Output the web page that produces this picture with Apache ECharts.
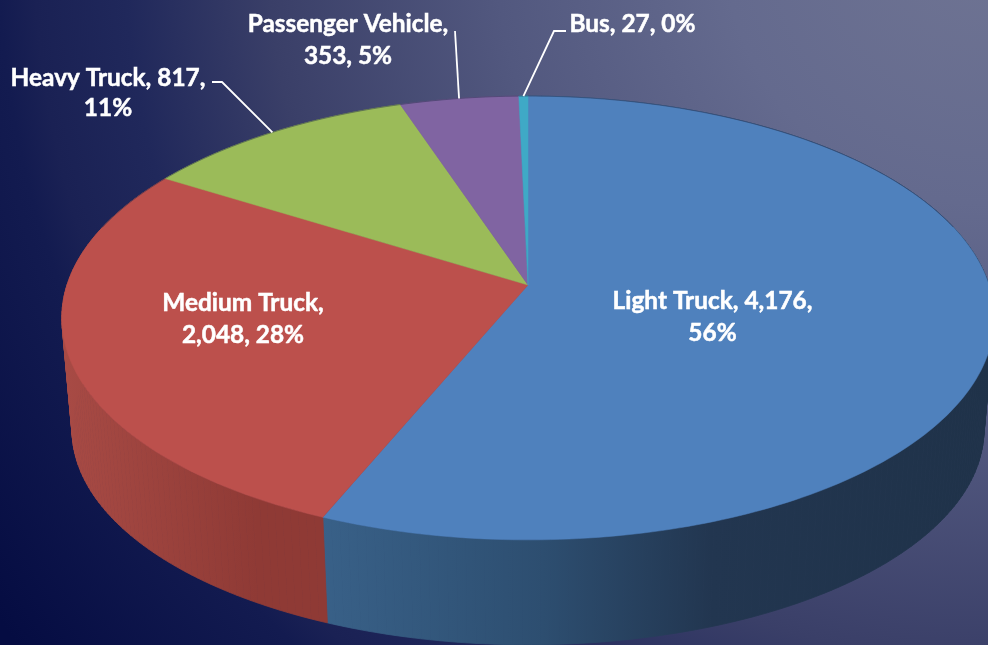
<!DOCTYPE html>
<html>
<head>
<meta charset="utf-8">
<style>html,body{margin:0;padding:0;background:#1c2150}#c{width:988px;height:645px}</style>
<script src="https://cdn.jsdelivr.net/npm/echarts@6/dist/echarts.min.js"></script>
</head>
<body>
<div id="c"></div>
<script>
// ---- data ----
const categories = ['Light Truck', 'Medium Truck', 'Heavy Truck', 'Passenger Vehicle', 'Bus'];
const values = [4176, 2048, 817, 353, 27];
const labelBreaks = [2, 1, 2, 1, 3]; // comma-separated parts on the first line

// ---- styling ----
const topColors = ['#4f81bd', '#bc504c', '#9bbb59', '#8064a2', '#3fa9c6'];
const wallColors = [
  [[0.26, '#3c668f'], [0.55, '#2d4e70'], [0.72, '#223650'], [1, '#1f3249']],
  [[0, '#b0504a'], [0.26, '#8f3a35'], [1, '#8f3a35']],
  [[0, '#7c9446'], [1, '#7c9446']],
  [[0, '#66507f'], [1, '#66507f']],
  [[0, '#328aa0'], [1, '#328aa0']]
];
const labelPos = [[712.5, 316], [243, 318], [108, 92], [348, 39], [632.5, 23]];
const labelLineHeight = [32, 32, 30, 32, 32];
const leaderElbow = [null, null, [[212, 82], [222, 82]], [[455, 31]], [[566, 31], [554, 31]]];

const total = values.reduce((a, b) => a + b, 0);
const starts = values.map((_, i) => values.slice(0, i).reduce((a, b) => a + b, 0) / total);
const fracs = values.map(v => v / total);

// perspective projection of the pie's top circle
const CX = 528, CY = 285, A = 461, K = 217, C = -0.1486;
// bottom rim is the top rim scaled about the ellipse centre and moved down
const EY = 318, BY = 430, SX = 0.978, SY = 0.968;
function topPt(f) {
  const t = f * 2 * Math.PI, u = Math.sin(t), v = -Math.cos(t), w = 1 + C * v;
  return [CX + A * u / w, CY + K * v / w];
}
function botPt(f) {
  const p = topPt(f);
  return [CX + SX * (p[0] - CX), BY + SY * (p[1] - EY)];
}
function arc(fn, a, b) {
  const n = Math.max(2, Math.ceil((b - a) * 360)), out = [];
  for (let i = 0; i <= n; i++) out.push(fn(a + (b - a) * i / n));
  return out;
}
function fmtLabel(i) {
  const parts = [categories[i], values[i].toLocaleString('en-US'), Math.round(fracs[i] * 100) + '%'];
  const k = labelBreaks[i];
  const first = parts.slice(0, k).join(', ');
  const rest = parts.slice(k).join(', ');
  return rest ? first + ',\n' + rest : first;
}

const seriesData = values.map((v, i) => ({ name: categories[i], value: v }));

const chart = echarts.init(document.getElementById('c'), null, { renderer: 'canvas', width: 988, height: 645 });
chart.setOption({
  animation: false,
  backgroundColor: new echarts.graphic.RadialGradient(988, -60, 1200, [
    { offset: 0, color: '#6f7493' },
    { offset: 0.22, color: '#646a8e' },
    { offset: 0.41, color: '#52587f' },
    { offset: 0.6, color: '#3a3f68' },
    { offset: 0.72, color: '#20285b' },
    { offset: 0.795, color: '#1a2154' },
    { offset: 0.825, color: '#131b50' },
    { offset: 1, color: '#050c42' }
  ], true),
  series: [
    { // side walls: swept quads, so the left and right silhouettes are filled too
      type: 'custom', coordinateSystem: 'none', silent: true, z: 1, data: seriesData,
      renderItem(p) {
        const i = p.dataIndex, a = starts[i], b = a + fracs[i];
        const tops = arc(topPt, a, b), bots = arc(botPt, a, b);
        const fill = new echarts.graphic.LinearGradient(0, 0, 988, 0,
          wallColors[i].map(s => ({ offset: s[0], color: s[1] })), true);
        const children = [];
        for (let k = 0; k + 1 < tops.length; k++) {
          children.push({
            type: 'polygon',
            shape: { points: [tops[k], tops[k + 1], bots[k + 1], bots[k]] },
            style: { fill, stroke: fill, lineWidth: 0.8 }
          });
        }
        return { type: 'group', children };
      }
    },
    { // top faces
      type: 'custom', coordinateSystem: 'none', silent: true, z: 2, data: seriesData,
      renderItem(p) {
        const i = p.dataIndex, a = starts[i], b = a + fracs[i];
        const rim = arc(topPt, a, b);
        return {
          type: 'group', children: [
            { type: 'polygon', shape: { points: [[CX, CY]].concat(rim) },
              style: { fill: topColors[i], stroke: topColors[i], lineWidth: 0.5 } },
            { type: 'polyline', shape: { points: rim.filter(q => q[1] < 230) },
              style: { fill: null, stroke: 'rgba(38,48,82,0.45)', lineWidth: 1 } }
          ]
        };
      }
    },
    { // labels and leader lines
      type: 'custom', coordinateSystem: 'none', silent: true, z: 3, data: seriesData,
      renderItem(p) {
        const i = p.dataIndex, children = [];
        if (leaderElbow[i]) {
          children.push({
            type: 'polyline',
            shape: { points: leaderElbow[i].concat([topPt(starts[i] + fracs[i] / 2)]) },
            style: { fill: null, stroke: '#ffffff', lineWidth: 1.8 }
          });
        }
        children.push({
          type: 'text',
          style: {
            text: fmtLabel(i), x: labelPos[i][0], y: labelPos[i][1] + 1,
            fill: '#ffffff', stroke: '#ffffff', lineWidth: 0.5,
            font: 'bold 24.4px Lato, "Open Sans", sans-serif',
            align: 'center', verticalAlign: 'middle', lineHeight: labelLineHeight[i]
          }
        });
        return { type: 'group', children };
      }
    }
  ]
});
</script>
</body>
</html>
